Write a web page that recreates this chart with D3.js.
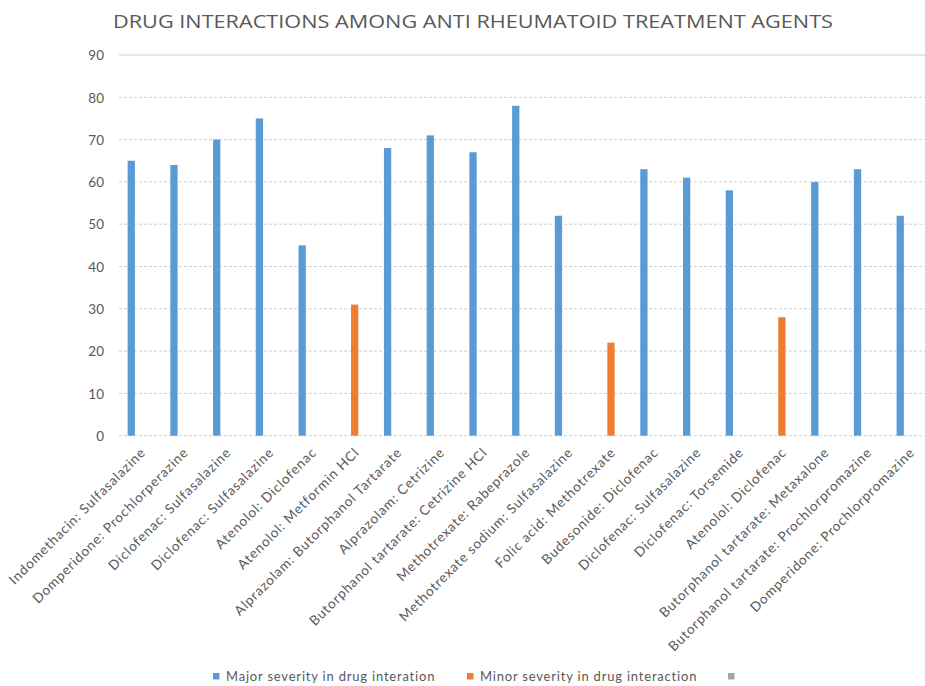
<!DOCTYPE html>
<html><head><meta charset="utf-8">
<script src="https://cdn.jsdelivr.net/npm/d3@7"></script>
<style>body{margin:0;background:#fff}svg{display:block}</style>
</head><body>
<script>
const categories = ["Indomethacin: Sulfasalazine","Domperidone: Prochlorperazine","Diclofenac: Sulfasalazine","Diclofenac: Sulfasalazine ","Atenolol: Diclofenac","Atenolol: Metformin HCl","Alprazolam: Butorphanol Tartarate","Alprazolam: Cetrizine","Butorphanol tartarate: Cetrizine HCl","Methotrexate: Rabeprazole","Methotrexate sodium: Sulfasalazine","Folic acid: Methotrexate","Budesonide: Diclofenac","Diclofenac: Sulfasalazine  ","Diclofenac: Torsemide","Atenolol: Diclofenac ","Butorphanol tartarate: Metaxalone","Butorphanol tartarate: Prochlorpromazine","Domperidone: Prochlorpromazine"];
const major = [65,64,70,75,45,null,68,71,67,78,52,null,63,61,58,null,60,63,52];
const minor = [null,null,null,null,null,31,null,null,null,null,null,22,null,null,null,28,null,null,null];
const third = categories.map(() => null);
const seriesNames = ["Major severity in drug interation","Minor severity in drug interaction",""];
const seriesColors = ["#5B9BD5","#ED7D31","#A5A5A5"];
const yTicks = [0,10,20,30,40,50,60,70,80,90];
const title = "DRUG INTERACTIONS AMONG ANTI RHEUMATOID TREATMENT AGENTS";

const W = 925, H = 686;
const svg = d3.select("body").append("svg").attr("width", W).attr("height", H);
const font = "Lato, 'Open Sans', sans-serif";

const y = d3.scaleLinear().domain([0, 90]).range([435.7, 55]);
const x = d3.scaleBand().domain(categories).range([119.7, 931.4]).padding(0);
const bw = x.bandwidth();
const inner = d3.scaleBand().domain([0,1,2]).range([bw/2 - 14.7, bw/2 + 14.7]).paddingInner(0.255).paddingOuter(0.1275);

// gridlines
svg.append("g").selectAll("line").data(yTicks).join("line")
  .attr("x1", 119).attr("x2", W)
  .attr("y1", d => y(d)).attr("y2", d => y(d))
  .attr("stroke", "#d0d0d0").attr("stroke-width", 1)
  .attr("stroke-dasharray", d => d === 90 ? null : "3,2");

// y axis labels
const yAxis = d3.axisLeft(y).tickValues(yTicks).tickSize(0).tickPadding(0);
const gy = svg.append("g").attr("transform", "translate(104,0)").call(yAxis);
gy.select(".domain").remove();
gy.selectAll("text").attr("fill", "#595959").style("font-family", font).style("font-size", "13.5px").attr("dy", "0.35em");

// bars
const allSeries = [major, minor, third];
allSeries.forEach((vals, si) => {
  svg.append("g").selectAll("rect")
    .data(categories.map((c, i) => ({c, v: vals[i]})).filter(d => d.v != null))
    .join("rect")
    .attr("x", d => x(d.c) + inner(si))
    .attr("width", inner.bandwidth())
    .attr("y", d => y(d.v))
    .attr("height", d => y(0) - y(d.v))
    .attr("fill", seriesColors[si]);
});

// x labels
const xAxis = d3.axisBottom(x).tickSize(0).tickPadding(0).tickFormat(d => d.trim());
const gx = svg.append("g").attr("transform", "translate(2,450)").call(xAxis);
gx.select(".domain").remove();
gx.selectAll("text")
  .attr("fill", "#595959").style("font-family", font).style("font-size", "13.5px")
  .style("letter-spacing", "0.85px")
  .attr("text-anchor", "end").attr("dy", "0.35em").attr("y", 0)
  .attr("transform", "rotate(-45)");

// title
svg.append("text").attr("x", 473).attr("y", 28).attr("text-anchor", "middle")
  .attr("fill", "#595959").style("font-family", "'Open Sans', sans-serif").style("font-size", "19px")
  .attr("textLength", 720).attr("lengthAdjust", "spacingAndGlyphs")
  .text(title);

// legend
const legendX = [213, 467, 728];
const lg = svg.append("g");
seriesNames.forEach((n, i) => {
  lg.append("rect").attr("x", legendX[i]).attr("y", 673).attr("width", 6.5).attr("height", 6.5).attr("fill", seriesColors[i]);
  lg.append("text").attr("x", legendX[i] + 13).attr("y", 681).text(n)
    .attr("fill", "#595959").style("font-family", font).style("font-size", "13px")
    .style("letter-spacing", "0.8px");
});
</script>
</body></html>
